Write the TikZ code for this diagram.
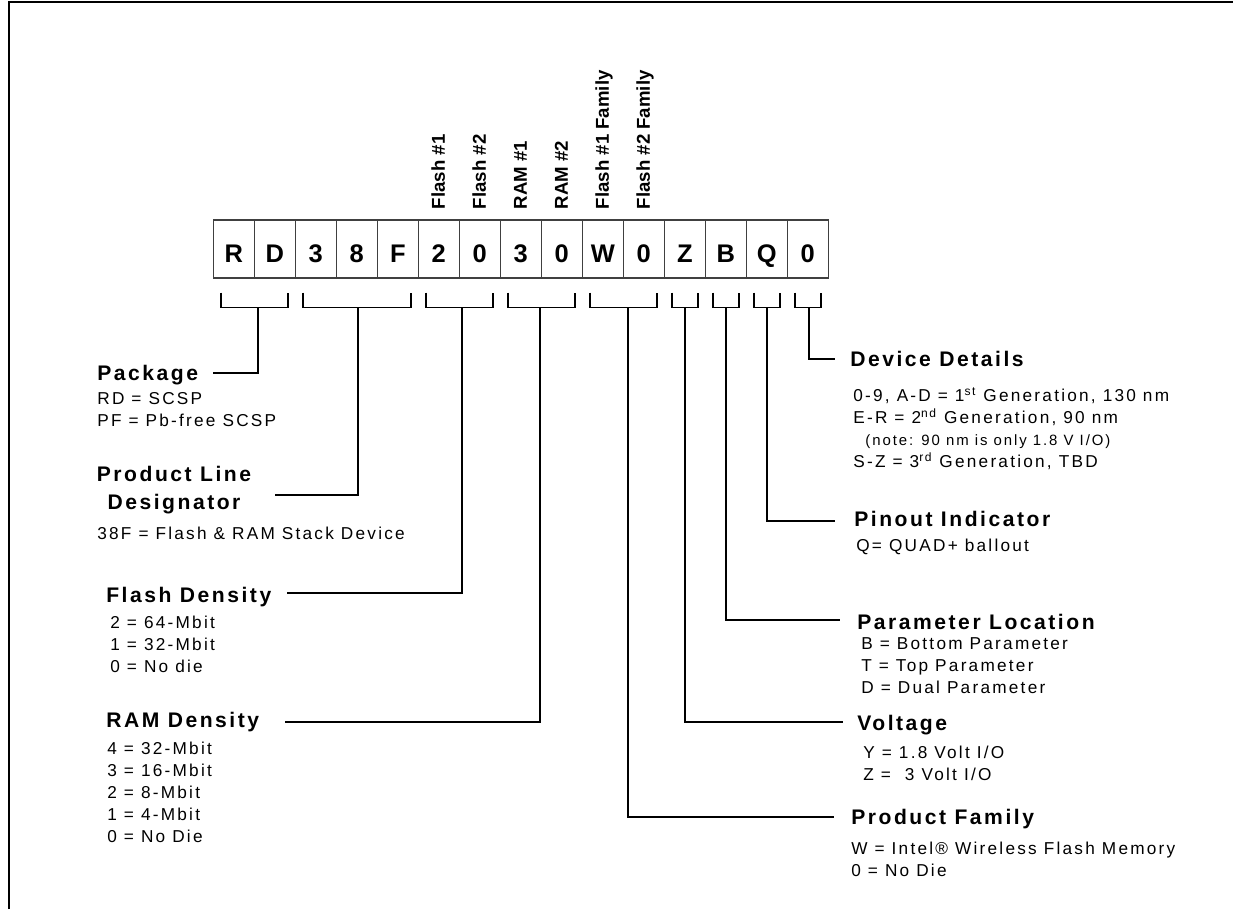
\documentclass[tikz,border=0pt]{standalone}
\usepackage{fontspec}
\setmainfont{Liberation Sans}
\newfontfamily\trackfont[LetterSpace=13]{Liberation Sans}
\newfontfamily\headfont[LetterSpace=12]{Liberation Sans}
\usepackage{tikz}
\usetikzlibrary{positioning,calc}

\tikzset{
  cell/.style={draw=black!75,line width=0.6pt,minimum width=0.82cm,minimum height=1.16cm,
    inner sep=0pt,text height=0.56cm,text depth=0pt,font=\fontsize{14.5}{16}\selectfont\bfseries},
  tag/.style={rotate=90,anchor=base west,inner sep=0pt,font=\fontsize{10.6}{12}\selectfont\bfseries},
  brk/.style={line width=1.1pt},
  lead/.style={line width=1.1pt},
  head/.style={anchor=base west,inner sep=0pt,font=\headfont\fontsize{12}{16.4}\selectfont\bfseries},
  body/.style={anchor=north west,inner sep=0pt,align=left,font=\trackfont\fontsize{9.8}{12.5}\selectfont},
}

\begin{document}
\begin{tikzpicture}[x=0.02cm,y=-0.02cm]
  \useasboundingbox (0,0) rectangle (1233,909);
  \draw[line width=1.1pt] (9,909) -- (9,1.8) -- (1233,1.8);

  % part number cells
  \foreach \ch [count=\i from 0] in {R,D,3,8,F,2,0,3,0,W,0,Z,B,Q,0}
    \node[cell] (c\i) at ({213.3+41*(\i+0.5)},249) {\ch};

  % field tags above the cells
  \foreach \i/\txt in {5/Flash \#1,6/Flash \#2,7/RAM \#1,8/RAM \#2,9/Flash \#1 Family,10/Flash \#2 Family}
    \node[tag] (t\i) at ($(c\i.north)+(6,-10)$) {\txt};

  % brackets under the cells
  \foreach \a/\b/\s/\nm in {0/1/257.7/pk,2/4/358.3/pl,5/6/462.3/fd,7/8/540/rm,9/10/628.3/pf,
                            11/11/685/vt,12/12/726/pa,13/13/767.3/po,14/14/809/dd} {
    \draw[brk] ($(c\a.south west)+(8,14)$) -- ++(0,15) -| ($(c\b.south east)+(-8,14)$);
    \coordinate (\nm) at (\s,307);
  }

  % left side fields
  \node[head] (pkh) at (97,380.5) {Package};
  \node[body] (pktx) at (97,392) {RD = SCSP\\PF = Pb-free SCSP};
  \node[head,anchor=north,align=center] (plh) at (174,465.5) {Product Line\\Designator};
  \node[body] (pltx) at (97,527) {38F = Flash \& RAM Stack Device};
  \node[head] (fdh) at (106,602.5) {Flash Density};
  \node[body] (fdtx) at (110,616) {2 = 64-Mbit\\1 = 32-Mbit\\0 = No die};
  \node[head] (rmh) at (106,727.5) {RAM Density};
  \node[body] (rmtx) at (107,742) {4 = 32-Mbit\\3 = 16-Mbit\\2 = 8-Mbit\\1 = 4-Mbit\\0 = No Die};

  % right side fields
  \node[head] (ddh) at (850,366.5) {Device Details};
  \node[body] (ddtx) at (853,387) {0-9, A-D = 1\textsuperscript{st} Generation, 130 nm\\
    E-R = 2\textsuperscript{nd} Generation, 90 nm\\
    \hspace*{0.24cm}{\fontsize{8.5}{12.5}\selectfont (note: 90 nm is only 1.8 V I/O)}\\
    S-Z = 3\textsuperscript{rd} Generation, TBD};
  \node[head] (poh) at (854,526.5) {Pinout Indicator};
  \node[body] (potx) at (856,539) {Q= QUAD+ ballout};
  \node[head] (pah) at (857,629) {Parameter Location};
  \node[body] (patx) at (861,637) {B = Bottom Parameter\\T = Top Parameter\\D = Dual Parameter};
  \node[head] (vth) at (857,730.5) {Voltage};
  \node[body] (vttx) at (863,746) {Y = 1.8 Volt I/O\\Z =\ \ 3 Volt I/O};
  \node[head] (pfh) at (851,824.5) {Product Family};
  \node[body] (pftx) at (851,842) {W = Intel® Wireless Flash Memory\\0 = No Die};

  % leader lines
  \coordinate (pk-end) at (213.3,372.7);
  \coordinate (pl-end) at (275,495);
  \coordinate (fd-end) at (286.7,593);
  \coordinate (rm-end) at (285,721.7);
  \coordinate (dd-end) at (835,359);
  \coordinate (po-end) at (835,521);
  \coordinate (pa-end) at (840,620);
  \coordinate (vt-end) at (843,722);
  \coordinate (pf-end) at (834,817);
  \foreach \nm in {pk,pl,fd,rm,dd,po,pa,vt,pf}
    \draw[lead] (\nm) |- (\nm-end);
\end{tikzpicture}
\end{document}
